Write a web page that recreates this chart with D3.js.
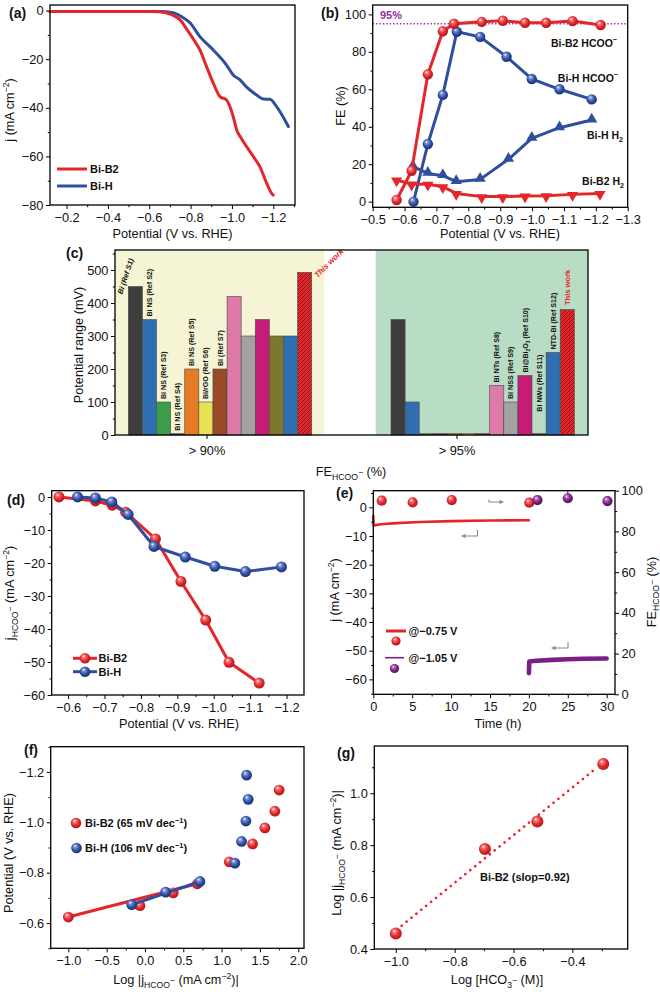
<!DOCTYPE html>
<html>
<head>
<meta charset="utf-8">
<script src="https://cdn.jsdelivr.net/npm/d3@7/dist/d3.min.js"></script>
<style>
html,body{margin:0;padding:0;background:#fff;}
svg{display:block;}
</style>
</head>
<body>
<svg id="chart" width="660" height="992"></svg>
<script>
// ================= DATA =================
// (a) LSV curves
const lsvB2Potential = [-0.12,-0.3,-0.5,-0.6,-0.648,-0.712,-0.752,-0.784,-0.816,-0.845,-0.877,-0.91,-0.942,-0.974,-1.006,-1.023,-1.045,-1.071,-1.103,-1.135,-1.168,-1.192,-1.2];
const lsvB2Current   = [-0.4,-0.4,-0.4,-0.4,-0.5,-1.8,-4.1,-8,-12.1,-16.2,-23,-29.9,-35.4,-36.8,-43.6,-49.1,-52.5,-56,-60,-64.2,-71,-75.2,-75.9];
const lsvHPotential  = [-0.12,-0.3,-0.5,-0.6,-0.652,-0.716,-0.756,-0.797,-0.845,-0.91,-0.974,-1.006,-1.039,-1.071,-1.119,-1.152,-1.184,-1.216,-1.273];
const lsvHCurrent    = [-0.4,-0.4,-0.4,-0.4,-0.4,-0.9,-2.5,-5,-10.7,-16.2,-22.4,-26.5,-28.5,-31.5,-34.7,-36.4,-36.5,-39.5,-47.7];

// (b) Faradaic efficiencies
const feB2Potential   = [-0.575,-0.622,-0.673,-0.720,-0.755,-0.842,-0.908,-0.978,-1.044,-1.127,-1.215];
const feB2Formate     = [0.9,16.5,68,91,95,96,96.6,95.5,95.5,96.4,94.3];
const feB2H2Potential = [-0.575,-0.622,-0.673,-0.720,-0.762,-0.842,-0.908,-0.978,-1.044,-1.127,-1.213];
const feB2H2          = [11.6,9.4,9.3,8,4.4,2.7,2.7,3,3.2,3.9,4.4];
const feHPotential    = [-0.628,-0.673,-0.720,-0.764,-0.837,-0.920,-0.999,-1.086,-1.187];
const feHFormate      = [0,30.8,57,90.7,88,77.4,65.5,60,54.6];
const feHH2Potential  = [-0.626,-0.673,-0.720,-0.762,-0.837,-0.926,-0.999,-1.086,-1.187];
const feHH2           = [18.7,15.1,13.9,10.7,11.9,22.6,33.8,39.5,43.6];
const feReference     = 95;

// (c) potential range comparison
const groupNames   = ["> 90%", "> 95%"];
const group90Labels = ["Bi (Ref S1)","Bi NS (Ref S2)","Bi NS (Ref S3)","Bi NS (Ref S4)","Bi NS (Ref S5)","Bi/rGO (Ref S6)","Bi (Ref S7)","","","","","","This work"];
const group90Values = [450,350,100,4,200,100,200,420,300,350,300,300,493];
const group95Labels = ["","","","","","","","Bi NTs (Ref S8)","Bi NSS (Ref S9)","Bi@Bi2O3 (Ref S10)","Bi NWs (Ref S11)","NTD-Bi (Ref S12)","This work"];
const group95Values = [350,100,4,4,4,4,4,150,100,180,4,250,380];
const barColors = ["#3d3d3d","#2f6eb0","#3c9d48","#6a2b86","#e77a25","#e8e254","#9b4a27","#de7aaa","#a2a2a2","#c61b76","#7b7a2c","#2f6eb0","hatch"];

// (d) partial current density of formate
const jfB2Potential = [-0.575,-0.675,-0.721,-0.758,-0.84,-0.91,-0.978,-1.042,-1.125];
const jfB2          = [0,-1.2,-2.5,-4.6,-12.7,-25.6,-37.3,-50.1,-56.4];
const jfHPotential  = [-0.626,-0.675,-0.72,-0.765,-0.836,-0.922,-1.003,-1.087,-1.186];
const jfH           = [0,-0.3,-1.5,-5.3,-15,-18.2,-21,-22.6,-21.2];

// (e) stability
const stabTimeA = [0,0.05,0.3,1,3,6,10,15,20];
const stabJA    = [-3,-6.3,-6.2,-5.9,-5.5,-5.1,-4.8,-4.6,-4.5];
const stabTimeB = [20,20.05,20.3,21,23,25,27,30];
const stabJB    = [-57.8,-53.8,-53.7,-53.5,-53.2,-53,-52.8,-52.7];
const stabFETimeA = [1.08,5.06,10.08,20.05];
const stabFEA     = [95.1,94.3,95.4,94.1];
const stabFETimeB = [21.1,25.0,30.1];
const stabFEB     = [95.4,96.3,94.9];
const stabFEBErr  = [0,1.6,0];

// (f) Tafel
const tafelB2Log = [-1.0,-0.065,0.369,0.682,1.1,1.404,1.565,1.695,1.751];
const tafelB2E   = [-0.624,-0.669,-0.72,-0.756,-0.843,-0.914,-0.978,-1.044,-1.128];
const tafelHLog  = [-0.173,0.27,0.717,1.173,1.26,1.317,1.347,1.326];
const tafelHE    = [-0.673,-0.723,-0.765,-0.838,-0.924,-1.005,-1.091,-1.187];
const tafelB2FitLog = [-1.0,0.68],  tafelB2FitE = [-0.624,-0.756];
const tafelHFitLog  = [-0.17,0.72], tafelHFitE  = [-0.673,-0.765];

// (g) reaction order
const orderLogC = [-1.0,-0.697,-0.519,-0.295];
const orderLogJ = [0.46,0.785,0.891,1.113];
const orderFitLogC = [-0.98,-0.315];
const orderFitLogJ = [0.49,1.10];

// tick values
const ticksA_x = [-0.2,-0.4,-0.6,-0.8,-1.0,-1.2], ticksA_y = [0,-20,-40,-60,-80];
const ticksB_x = [-0.5,-0.6,-0.7,-0.8,-0.9,-1.0,-1.1,-1.2,-1.3], ticksB_y = [0,20,40,60,80,100];
const ticksC_y = [0,100,200,300,400,500];
const ticksD_x = [-0.6,-0.7,-0.8,-0.9,-1.0,-1.1,-1.2], ticksD_y = [0,-10,-20,-30,-40,-50,-60];
const ticksE_x = [0,5,10,15,20,25,30], ticksE_yL = [0,-10,-20,-30,-40,-50,-60], ticksE_yR = [0,20,40,60,80,100];
const ticksF_x = [-1.0,-0.5,0.0,0.5,1.0,1.5,2.0], ticksF_y = [-0.6,-0.8,-1.0,-1.2];
const ticksG_x = [-1.0,-0.8,-0.6,-0.4], ticksG_y = [0.4,0.6,0.8,1.0];

// ================= DRAWING =================
const FONT = '"Liberation Sans", Arial, Helvetica, sans-serif';
const RED = "#e4262b", BLUE = "#2e4e9e", PURPLE = "#7b1f84";
const TICKFS = 12.8;
const svg = d3.select("#chart").style("font-family", FONT);
const defs = svg.append("defs");

function ballGrad(id, light, mid, dark) {
  const g = defs.append("radialGradient").attr("id", id)
    .attr("cx", "45%").attr("cy", "42%").attr("r", "62%").attr("fx", "36%").attr("fy", "30%");
  g.append("stop").attr("offset", "0%").attr("stop-color", "#ffffff");
  g.append("stop").attr("offset", "22%").attr("stop-color", light);
  g.append("stop").attr("offset", "60%").attr("stop-color", mid);
  g.append("stop").attr("offset", "100%").attr("stop-color", dark);
}
ballGrad("ballRed", "#f27a7a", "#e3262b", "#a81418");
ballGrad("ballBlue", "#7f93d6", "#2e4fa3", "#172c6a");
ballGrad("ballPurple", "#b46cbc", "#7b1f84", "#4a0d52");

const hatch = defs.append("pattern").attr("id", "hatch").attr("patternUnits", "userSpaceOnUse")
  .attr("width", 4).attr("height", 4);
hatch.append("rect").attr("width", 4).attr("height", 4).attr("fill", "#e3272c");
hatch.append("path").attr("d", "M-1,1 L1,-1 M0,4 L4,0 M3,5 L5,3")
  .attr("stroke", "#6e0e10").attr("stroke-width", 0.8);

const zip = (a, b) => a.map((v, i) => [v, b[i]]);

function minorsBetween(majors, step, lo, hi) {
  const out = [];
  const mn = Math.min(lo, hi), mx = Math.max(lo, hi);
  for (let v = Math.ceil(mn / step) * step; v <= mx + 1e-9; v += step) {
    const r = Math.round(v / step) * step;
    if (!majors.some(m => Math.abs(m - r) < step / 10)) out.push(+r.toFixed(6));
  }
  return out;
}

function axis(g, scale, orient, pos, majors, step, fmt, opts = {}) {
  const gen = orient === "left" ? d3.axisLeft : orient === "right" ? d3.axisRight : d3.axisBottom;
  const tr = orient === "bottom" ? `translate(0,${pos})` : `translate(${pos},0)`;
  const fs = opts.fs || TICKFS;
  const a = g.append("g").attr("transform", tr)
    .call(gen(scale).tickValues(majors).tickFormat(fmt).tickSize(4).tickPadding(opts.pad || 2.5));
  a.select(".domain").remove();
  a.selectAll("line").attr("stroke", "#000").attr("stroke-width", 1);
  a.selectAll("text").attr("font-size", fs).attr("font-family", FONT).attr("fill", "#111");
  if (step) {
    const d = scale.domain();
    const mins = minorsBetween(majors, step, d[0], d[1]);
    const b = g.append("g").attr("transform", tr)
      .call(gen(scale).tickValues(mins).tickFormat("").tickSize(2.2));
    b.select(".domain").remove();
    b.selectAll("line").attr("stroke", "#000").attr("stroke-width", 1);
  }
}

function frame(g, P) {
  g.append("rect").attr("x", P.x0).attr("y", P.y0).attr("width", P.x1 - P.x0).attr("height", P.y1 - P.y0)
    .attr("fill", "none").attr("stroke", "#000").attr("stroke-width", 1.3);
}

function rich(g, x, y, parts, size, opts = {}) {
  const t = g.append("text").attr("x", x).attr("y", y).attr("font-size", size)
    .attr("font-family", FONT).attr("fill", opts.fill || "#111")
    .attr("text-anchor", opts.anchor || "start");
  if (opts.bold) t.attr("font-weight", "bold");
  if (opts.italic) t.attr("font-style", "italic");
  if (opts.rotate !== undefined) t.attr("transform", `rotate(${opts.rotate},${x},${y})`);
  let shift = 0;
  parts.forEach(p => {
    const target = p.sub ? size * 0.3 : p.sup ? -size * 0.4 : p.ss ? -size * 0.05 : 0;
    const fsz = (p.sub || p.sup || p.ss) ? size * 0.68 : size;
    t.append("tspan").attr("dy", target - shift).attr("font-size", fsz).text(p.t);
    shift = target;
  });
  return t;
}

function balls(g, pts, xs, ys, grad, r) {
  g.selectAll(null).data(pts).enter().append("circle")
    .attr("cx", d => xs(d[0])).attr("cy", d => ys(d[1])).attr("r", r)
    .attr("fill", `url(#${grad})`);
}
function polyline(g, pts, xs, ys, color, w, curve) {
  const l = d3.line().x(d => xs(d[0])).y(d => ys(d[1]));
  if (curve) l.curve(curve);
  g.append("path").attr("d", l(pts)).attr("fill", "none").attr("stroke", color)
    .attr("stroke-width", w).attr("stroke-linejoin", "round").attr("stroke-linecap", "round");
}
function panelLabel(txt, x, y) {
  svg.append("text").attr("x", x).attr("y", y).attr("font-size", 14).attr("font-weight", "bold")
    .attr("font-family", FONT).attr("fill", "#111").text(txt);
}

const f1 = d3.format(".1f"), fd = d3.format("d");

// ---------------- (a) ----------------
{
  const P = {x0: 50, x1: 295, y0: 5, y1: 205};
  const g = svg.append("g");
  const x = d3.scaleLinear().domain([-0.12, -1.305]).range([P.x0, P.x1]);
  const y = d3.scaleLinear().domain([-80, 2.3]).range([P.y1, P.y0]);
  polyline(g, zip(lsvHPotential, lsvHCurrent), x, y, BLUE, 3, d3.curveMonotoneX);
  polyline(g, zip(lsvB2Potential, lsvB2Current), x, y, RED, 3, d3.curveMonotoneX);
  axis(g, x, "bottom", P.y1, ticksA_x, 0.1, f1, {pad: 3.5});
  axis(g, y, "left", P.x0, ticksA_y, 10, fd);
  frame(g, P);
  // legend
  [["Bi-B2", RED, 169], ["Bi-H", BLUE, 186]].forEach(([t, c, yy]) => {
    g.append("line").attr("x1", 57).attr("x2", 87).attr("y1", yy).attr("y2", yy).attr("stroke", c).attr("stroke-width", 3);
    g.append("text").attr("x", 90).attr("y", yy + 4).attr("font-size", 11).attr("font-weight", "bold").attr("fill", "#111").text(t);
  });
  rich(g, 172.5, 237.5, [{t: "Potential (V vs. RHE)"}], 12.7, {anchor: "middle"});
  rich(g, 14, 110, [{t: "j (mA cm"}, {t: "−2", sup: true}, {t: ")"}], 12.7, {anchor: "middle", rotate: -90});
  panelLabel("(a)", 9, 18);
}

// ---------------- (b) ----------------
{
  const P = {x0: 372.7, x1: 627.7, y0: 5, y1: 207.3};
  const g = svg.append("g");
  const x = d3.scaleLinear().domain([-0.5, -1.3]).range([P.x0, P.x1]);
  const y = d3.scaleLinear().domain([-3, 105]).range([P.y1, P.y0]);
  g.append("line").attr("x1", P.x0).attr("x2", P.x1).attr("y1", y(feReference)).attr("y2", y(feReference))
    .attr("stroke", "#9a2e9c").attr("stroke-width", 1.6).attr("stroke-dasharray", "1.4,2");
  g.append("text").attr("x", 380).attr("y", 18.5).attr("font-size", 11).attr("font-weight", "bold")
    .attr("fill", "#9a2e9c").text("95%");
  const tri = d3.symbol().type(d3.symbolTriangle).size(55);
  // Bi-H
  polyline(g, zip(feHH2Potential, feHH2), x, y, BLUE, 3);
  g.selectAll(null).data(zip(feHH2Potential, feHH2)).enter().append("path").attr("d", tri)
    .attr("transform", d => `translate(${x(d[0])},${y(d[1]) - 0.8})`).attr("fill", BLUE);
  polyline(g, zip(feHPotential, feHFormate), x, y, BLUE, 3);
  balls(g, zip(feHPotential, feHFormate), x, y, "ballBlue", 5.2);
  // Bi-B2
  polyline(g, zip(feB2H2Potential, feB2H2), x, y, RED, 3);
  g.selectAll(null).data(zip(feB2H2Potential, feB2H2)).enter().append("path").attr("d", tri)
    .attr("transform", d => `translate(${x(d[0])},${y(d[1]) + 0.8}) rotate(180)`).attr("fill", RED);
  polyline(g, zip(feB2Potential, feB2Formate), x, y, RED, 3);
  balls(g, zip(feB2Potential, feB2Formate), x, y, "ballRed", 5.2);
  axis(g, x, "bottom", P.y1, ticksB_x, 0.05, f1, {pad: 3.5});
  axis(g, y, "left", P.x0, ticksB_y, 10, fd);
  frame(g, P);
  rich(g, 617, 46.5, [{t: "Bi-B2 HCOO"}, {t: "−", sup: true}], 10.5, {anchor: "end", bold: true});
  rich(g, 618, 81.5, [{t: "Bi-H HCOO"}, {t: "−", sup: true}], 10.5, {anchor: "end", bold: true});
  rich(g, 623, 139, [{t: "Bi-H H"}, {t: "2", sub: true}], 10.5, {anchor: "end", bold: true});
  rich(g, 624, 185, [{t: "Bi-B2 H"}, {t: "2", sub: true}], 10.5, {anchor: "end", bold: true});
  rich(g, 500, 237.5, [{t: "Potential (V vs. RHE)"}], 12.7, {anchor: "middle"});
  rich(g, 345, 106, [{t: "FE (%)"}], 12.7, {anchor: "middle", rotate: -90});
  panelLabel("(b)", 321, 18);
}

// ---------------- (c) ----------------
{
  const P = {x0: 115, x1: 588, y0: 250, y1: 435};
  const g = svg.append("g");
  const y = d3.scaleLinear().domain([0, 560.6]).range([P.y1, P.y0]);
  const bandA = d3.scaleBand().domain(d3.range(group90Values.length)).range([128.3, 311.7]);
  const bandB = d3.scaleBand().domain(d3.range(group95Values.length)).range([391, 574.3]);
  const groupTick = d3.scaleOrdinal().domain(groupNames).range([207, 457]);
  g.append("rect").attr("x", P.x0).attr("y", P.y0).attr("width", 324.3 - P.x0).attr("height", P.y1 - P.y0).attr("fill", "#f5f4d4");
  g.append("rect").attr("x", 375.7).attr("y", P.y0).attr("width", P.x1 - 375.7).attr("height", P.y1 - P.y0).attr("fill", "#b9dcc5");
  [[group90Values, bandA], [group95Values, bandB]].forEach(([vals, band]) => {
    g.selectAll(null).data(vals).enter().append("rect")
      .attr("x", (d, i) => band(i)).attr("width", band.bandwidth())
      .attr("y", d => y(d)).attr("height", d => y(0) - y(d))
      .attr("fill", (d, i) => barColors[i] === "hatch" ? "url(#hatch)" : barColors[i])
      .attr("stroke", "#4a4a4a").attr("stroke-width", 0.6);
  });
  // bar labels
  const lift = {"Bi NWs (Ref S11)": 19};
  function barLabel(label, i, vals, band) {
    if (!label) return;
    const cx = band(i) + band.bandwidth() / 2;
    const top = y(vals[i]);
    if (label === "This work") {
      if (band === bandA) {
        rich(g, cx + 13, top + 6, [{t: label}], 8, {fill: RED, bold: true, italic: true, rotate: -45});
      } else {
        rich(g, cx + 2.8, top - 4.5, [{t: label}], 7.6, {fill: RED, bold: true, rotate: -90});
      }
      return;
    }
    if (label === "Bi (Ref S1)") {
      rich(g, cx - 13, top + 8, [{t: label}], 7.3, {bold: true, italic: true, rotate: -72});
      return;
    }
    const yy = top - 3 - (lift[label] || 0);
    let parts = [{t: label}];
    const m = label.match(/^Bi@Bi2O3(.*)$/);
    if (m) parts = [{t: "Bi@Bi"}, {t: "2", sub: true}, {t: "O"}, {t: "3", sub: true}, {t: m[1]}];
    rich(g, cx + 2.6, yy, parts, 7.1, {bold: true, rotate: -90});
  }
  group90Labels.forEach((l, i) => barLabel(l, i, group90Values, bandA));
  group95Labels.forEach((l, i) => barLabel(l, i, group95Values, bandB));
  axis(g, y, "left", P.x0, ticksC_y, 50, fd);
  groupNames.forEach(n => {
    g.append("line").attr("x1", groupTick(n)).attr("x2", groupTick(n)).attr("y1", P.y1).attr("y2", P.y1 + 4).attr("stroke", "#000");
    g.append("text").attr("x", groupTick(n)).attr("y", 455).attr("text-anchor", "middle").attr("font-size", TICKFS).attr("fill", "#111").text(n);
  });
  frame(g, P);
  rich(g, 351, 476, [{t: "FE"}, {t: "HCOO", sub: true}, {t: "−", ss: true}, {t: " (%)"}], 12.7, {anchor: "middle"});
  rich(g, 83, 345, [{t: "Potential range (mV)"}], 12.7, {anchor: "middle", rotate: -90});
  panelLabel("(c)", 66, 258);
}

// ---------------- (d) ----------------
{
  const P = {x0: 51.7, x1: 304, y0: 490.7, y1: 695};
  const g = svg.append("g");
  const x = d3.scaleLinear().domain([-0.555, -1.248]).range([P.x0, P.x1]);
  const y = d3.scaleLinear().domain([-60, 1.9]).range([P.y1, P.y0]);
  polyline(g, zip(jfB2Potential, jfB2), x, y, RED, 3);
  balls(g, zip(jfB2Potential, jfB2), x, y, "ballRed", 5.5);
  polyline(g, zip(jfHPotential, jfH), x, y, BLUE, 3);
  balls(g, zip(jfHPotential, jfH), x, y, "ballBlue", 5.5);
  axis(g, x, "bottom", P.y1, ticksD_x, 0.05, f1, {pad: 3.5});
  axis(g, y, "left", P.x0, ticksD_y, 5, fd);
  frame(g, P);
  [["Bi-B2", "ballRed", RED, 658.3], ["Bi-H", "ballBlue", BLUE, 671.7]].forEach(([t, gr, c, yy]) => {
    g.append("line").attr("x1", 73).attr("x2", 97).attr("y1", yy).attr("y2", yy).attr("stroke", c).attr("stroke-width", 3);
    g.append("circle").attr("cx", 85).attr("cy", yy).attr("r", 5.3).attr("fill", `url(#${gr})`);
    g.append("text").attr("x", 98.5).attr("y", yy + 4).attr("font-size", 11).attr("font-weight", "bold").attr("fill", "#111").text(t);
  });
  rich(g, 179, 728, [{t: "Potential (V vs. RHE)"}], 12.7, {anchor: "middle"});
  rich(g, 14, 593, [{t: "j"}, {t: "HCOO", sub: true}, {t: "−", ss: true}, {t: " (mA cm"}, {t: "−2", sup: true}, {t: ")"}], 12.7, {anchor: "middle", rotate: -90});
  panelLabel("(d)", 7, 505);
}

// ---------------- (e) ----------------
{
  const P = {x0: 373.3, x1: 615, y0: 490.7, y1: 694.3};
  const g = svg.append("g");
  const x = d3.scaleLinear().domain([0, 31.07]).range([P.x0, P.x1]);
  const yL = d3.scaleLinear().domain([-65.2, 5.8]).range([P.y1, P.y0]);
  const yR = d3.scaleLinear().domain([0, 100]).range([P.y1, P.y0]);
  polyline(g, zip(stabTimeA, stabJA), x, yL, RED, 2.6);
  polyline(g, zip(stabTimeB, stabJB), x, yL, PURPLE, 4.6);
  // error bars
  stabFETimeB.forEach((t, i) => {
    if (stabFEBErr[i] > 0) g.append("line").attr("x1", x(t)).attr("x2", x(t))
      .attr("y1", yR(stabFEB[i] - stabFEBErr[i])).attr("y2", yR(stabFEB[i] + stabFEBErr[i]) - 4)
      .attr("stroke", PURPLE).attr("stroke-width", 1.2);
  });
  balls(g, zip(stabFETimeA, stabFEA), x, yR, "ballRed", 5.1);
  balls(g, zip(stabFETimeB, stabFEB), x, yR, "ballPurple", 5.1);
  // arrows
  const arrowColor = "#8a8a8a";
  function hookArrow(xa, ya, len, dir) {
    const xs = dir < 0 ? xa + len : xa;
    const xe = dir < 0 ? xa : xa + len;
    g.append("path").attr("d", `M${xs},${ya - 6} L${xs},${ya} L${xe},${ya}`).attr("fill", "none")
      .attr("stroke", arrowColor).attr("stroke-width", 1.1);
    g.append("path").attr("d", `M${xe},${ya} l${-dir * 4},-2.2 l0,4.4 Z`).attr("fill", arrowColor);
  }
  hookArrow(461.5, 536, 16, -1);
  hookArrow(551.5, 648, 16.5, -1);
  g.append("path").attr("d", "M489,499.5 L489,502 L503.5,502").attr("fill", "none").attr("stroke", arrowColor).attr("stroke-width", 1.1);
  g.append("path").attr("d", "M503.5,502 l-4,-2.2 l0,4.4 Z").attr("fill", arrowColor);
  axis(g, x, "bottom", P.y1, ticksE_x, 2.5, fd, {pad: 3.5});
  axis(g, yL, "left", P.x0, ticksE_yL, 5, fd);
  axis(g, yR, "right", P.x1, ticksE_yR, 10, fd);
  frame(g, P);
  // legend
  g.append("line").attr("x1", 386).attr("x2", 406).attr("y1", 631).attr("y2", 631).attr("stroke", RED).attr("stroke-width", 3);
  g.append("text").attr("x", 408.5).attr("y", 635).attr("font-size", 11).attr("font-weight", "bold").attr("fill", "#111").text("@−0.75 V");
  g.append("circle").attr("cx", 396).attr("cy", 641).attr("r", 4.6).attr("fill", "url(#ballRed)");
  g.append("line").attr("x1", 385).attr("x2", 404).attr("y1", 657.7).attr("y2", 657.7).attr("stroke", PURPLE).attr("stroke-width", 1.6);
  g.append("text").attr("x", 408.5).attr("y", 661.7).attr("font-size", 11).attr("font-weight", "bold").attr("fill", "#111").text("@−1.05 V");
  g.append("circle").attr("cx", 394.5).attr("cy", 668.5).attr("r", 4.6).attr("fill", "url(#ballPurple)");
  rich(g, 498, 728, [{t: "Time (h)"}], 12.7, {anchor: "middle"});
  rich(g, 339, 590, [{t: "j (mA cm"}, {t: "−2", sup: true}, {t: ")"}], 12.7, {anchor: "middle", rotate: -90});
  rich(g, 655.5, 592, [{t: "FE"}, {t: "HCOO", sub: true}, {t: "−", ss: true}, {t: " (%)"}], 12.7, {anchor: "middle", rotate: -90});
  panelLabel("(e)", 336, 498);
}

// ---------------- (f) ----------------
{
  const P = {x0: 50.7, x1: 304, y0: 746.7, y1: 948.3};
  const g = svg.append("g");
  const x = d3.scaleLinear().domain([-1.23, 2.075]).range([P.x0, P.x1]);
  const y = d3.scaleLinear().domain([-0.5, -1.3]).range([P.y1, P.y0]);
  polyline(g, zip(tafelB2FitLog, tafelB2FitE), x, y, RED, 3);
  balls(g, zip(tafelB2Log, tafelB2E), x, y, "ballRed", 5.4);
  polyline(g, zip(tafelHFitLog, tafelHFitE), x, y, BLUE, 3);
  balls(g, zip(tafelHLog, tafelHE), x, y, "ballBlue", 5.4);
  axis(g, x, "bottom", P.y1, ticksF_x, 0.25, f1, {pad: 3.5});
  axis(g, y, "left", P.x0, ticksF_y, 0.1, f1);
  frame(g, P);
  g.append("circle").attr("cx", 76).attr("cy", 823).attr("r", 5.3).attr("fill", "url(#ballRed)");
  rich(g, 85, 827, [{t: "Bi-B2 (65 mV dec"}, {t: "−1", sup: true}, {t: ")"}], 11, {bold: true});
  g.append("circle").attr("cx", 76.5).attr("cy", 848).attr("r", 5.3).attr("fill", "url(#ballBlue)");
  rich(g, 85, 852, [{t: "Bi-H (106 mV dec"}, {t: "−1", sup: true}, {t: ")"}], 11, {bold: true});
  rich(g, 176, 984, [{t: "Log |j"}, {t: "HCOO", sub: true}, {t: "−", ss: true}, {t: " (mA cm"}, {t: "−2", sup: true}, {t: ")|"}], 12.7, {anchor: "middle"});
  rich(g, 12.5, 853, [{t: "Potential (V vs. RHE)"}], 12.7, {anchor: "middle", rotate: -90});
  panelLabel("(f)", 24, 755);
}

// ---------------- (g) ----------------
{
  const P = {x0: 374.3, x1: 627.7, y0: 746, y1: 949};
  const g = svg.append("g");
  const x = d3.scaleLinear().domain([-1.073, -0.212]).range([P.x0, P.x1]);
  const y = d3.scaleLinear().domain([0.4, 1.182]).range([P.y1, P.y0]);
  g.append("path").attr("d", d3.line().x(d => x(d[0])).y(d => y(d[1]))(zip(orderFitLogC, orderFitLogJ)))
    .attr("stroke", RED).attr("stroke-width", 2.6).attr("stroke-dasharray", "0.1,6.2").attr("stroke-linecap", "round").attr("fill", "none");
  balls(g, zip(orderLogC, orderLogJ), x, y, "ballRed", 6);
  axis(g, x, "bottom", P.y1, ticksG_x, 0.1, f1, {pad: 3.5});
  axis(g, y, "left", P.x0, ticksG_y, 0.1, f1);
  frame(g, P);
  rich(g, 480, 880.5, [{t: "Bi-B2 (slop=0.92)"}], 11, {bold: true});
  rich(g, 497, 984, [{t: "Log [HCO"}, {t: "3", sub: true}, {t: "−", ss: true}, {t: " (M)]"}], 12.7, {anchor: "middle"});
  rich(g, 341, 853, [{t: "Log |j"}, {t: "HCOO", sub: true}, {t: "−", ss: true}, {t: " (mA cm"}, {t: "−2", sup: true}, {t: ")|"}], 12.7, {anchor: "middle", rotate: -90});
  panelLabel("(g)", 337, 758);
}
</script>
</body>
</html>
